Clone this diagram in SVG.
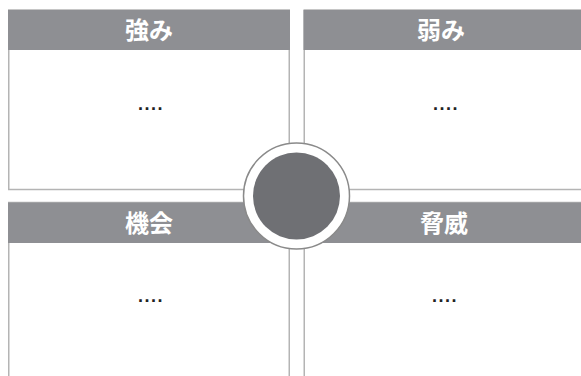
<svg xmlns="http://www.w3.org/2000/svg" width="581" height="376" viewBox="0 0 581 376">
<style>
.body{fill:#ffffff;stroke:#b4b4b4;stroke-width:1.5}
.head{fill:#8e8f93}
.ht{font-family:"Liberation Sans","Noto Sans CJK JP",sans-serif;font-weight:bold;font-size:24px;fill:#ffffff;text-anchor:middle}
.dt{font-family:"Liberation Sans",sans-serif;font-weight:bold;font-size:18px;letter-spacing:1.5px;fill:#222222;text-anchor:middle}
</style>
<rect width="581" height="376" fill="#ffffff"/>
<g id="strengths">
<rect class="body" x="8.75" y="10" width="280.5" height="179.5"/>
<rect class="head" x="8" y="10" width="282" height="40"/>
<text class="ht" x="149" y="39">強み</text>
<text class="dt" x="151" y="110">....</text>
</g>
<g id="weaknesses">
<rect class="body" x="304.25" y="10" width="280" height="179.5"/>
<rect class="head" x="303.5" y="10" width="278" height="40"/>
<text class="ht" x="441" y="39">弱み</text>
<text class="dt" x="446" y="110">....</text>
</g>
<g id="opportunities">
<rect class="body" x="8.75" y="202.5" width="280.5" height="180"/>
<rect class="head" x="8" y="202.5" width="282" height="40.5"/>
<text class="ht" x="149" y="232">機会</text>
<text class="dt" x="151" y="302">....</text>
</g>
<g id="threats">
<rect class="body" x="304.25" y="202.5" width="280" height="180"/>
<rect class="head" x="303.5" y="202.5" width="278" height="40.5"/>
<text class="ht" x="444" y="232">脅威</text>
<text class="dt" x="445" y="302">....</text>
</g>
<g id="center">
<circle cx="296.5" cy="196" r="53" fill="#ffffff" stroke="#8a8a8a" stroke-width="1.5"/>
<circle cx="296.5" cy="196" r="43.5" fill="#6f7074"/>
</g>
<g id="connectors"></g>
</svg>
